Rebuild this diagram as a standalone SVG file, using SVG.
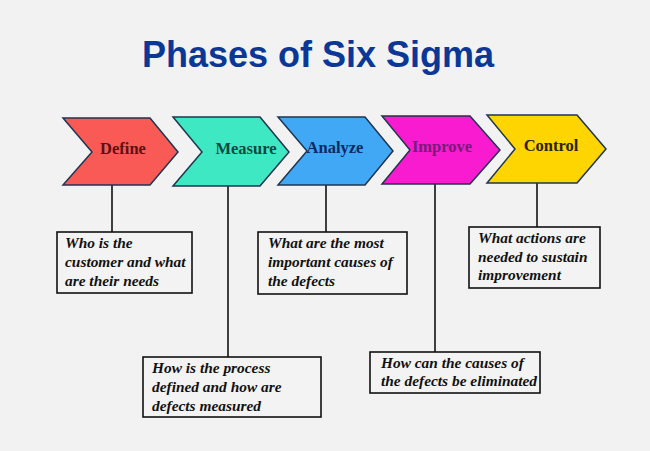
<svg xmlns="http://www.w3.org/2000/svg" width="650" height="451" viewBox="0 0 650 451">
<style>
.chev{stroke:#1f3550;stroke-width:1.5;stroke-linejoin:miter}
.lbl{font-family:"Liberation Serif",serif;font-weight:bold;font-size:16.5px;text-anchor:middle}
.box{fill:#f3f3f3;stroke:#111;stroke-width:1.6}
.desc{font-family:"Liberation Serif",serif;font-weight:bold;font-style:italic;font-size:15.4px;fill:#111}
.conn{stroke:#111;stroke-width:1.6;fill:none}
</style>
<rect width="650" height="451" fill="#f2f2f2"/>
<text x="318" y="67" font-family="Liberation Sans, Arial, sans-serif" font-weight="bold" font-size="36" fill="#0b3897" text-anchor="middle">Phases of Six Sigma</text>
<g id="connectors">
<line class="conn" x1="112" y1="185" x2="112" y2="232"/>
<line class="conn" x1="228" y1="186" x2="228" y2="357"/>
<line class="conn" x1="326" y1="185" x2="326" y2="232"/>
<line class="conn" x1="435" y1="184" x2="435" y2="352"/>
<line class="conn" x1="537" y1="183" x2="537" y2="227"/>
</g>
<g id="define">
<polygon class="chev" fill="#f95a56" points="63,118 150,118 178,152 150,185 63,185 92,152"/>
<text class="lbl" x="123" y="154" fill="#5a1212">Define</text>
</g>
<g id="measure">
<polygon class="chev" fill="#3ee8c2" points="173,117 260,117 289,152 260,186 173,186 202,152"/>
<text class="lbl" x="246" y="154" fill="#0b4a40">Measure</text>
</g>
<g id="analyze">
<polygon class="chev" fill="#40a8f4" points="278,117 365,117 393,151 365,185 278,185 307,151"/>
<text class="lbl" x="335" y="153" fill="#0b2a66">Analyze</text>
</g>
<g id="improve">
<polygon class="chev" fill="#f81bcf" points="382,116 470,116 500,150 470,184 382,184 410,150"/>
<text class="lbl" x="442" y="152" fill="#7a1a7a">Improve</text>
</g>
<g id="control">
<polygon class="chev" fill="#ffd500" points="487,115 577,115 606,149 577,183 487,183 515,149"/>
<text class="lbl" x="551" y="151" fill="#2a2208">Control</text>
</g>
<g id="box-define">
<rect class="box" x="57" y="232" width="135" height="61"/>
<text class="desc"><tspan x="65" y="248">Who is the</tspan><tspan x="65" y="267">customer and what</tspan><tspan x="65" y="286">are their needs</tspan></text>
</g>
<g id="box-measure">
<rect class="box" x="143" y="357" width="178" height="60"/>
<text class="desc"><tspan x="152" y="373">How is the process</tspan><tspan x="152" y="392">defined and how are</tspan><tspan x="152" y="411">defects measured</tspan></text>
</g>
<g id="box-analyze">
<rect class="box" x="258" y="232" width="149" height="62"/>
<text class="desc"><tspan x="268" y="248">What are the most</tspan><tspan x="268" y="267">important causes of</tspan><tspan x="268" y="286">the defects</tspan></text>
</g>
<g id="box-improve">
<rect class="box" x="370" y="352" width="170" height="41"/>
<text class="desc"><tspan x="381" y="368">How can the causes of</tspan><tspan x="381" y="386">the defects be eliminated</tspan></text>
</g>
<g id="box-control">
<rect class="box" x="469" y="227" width="131" height="61"/>
<text class="desc"><tspan x="478" y="243">What actions are</tspan><tspan x="478" y="262">needed to sustain</tspan><tspan x="478" y="280">improvement</tspan></text>
</g>
</svg>
